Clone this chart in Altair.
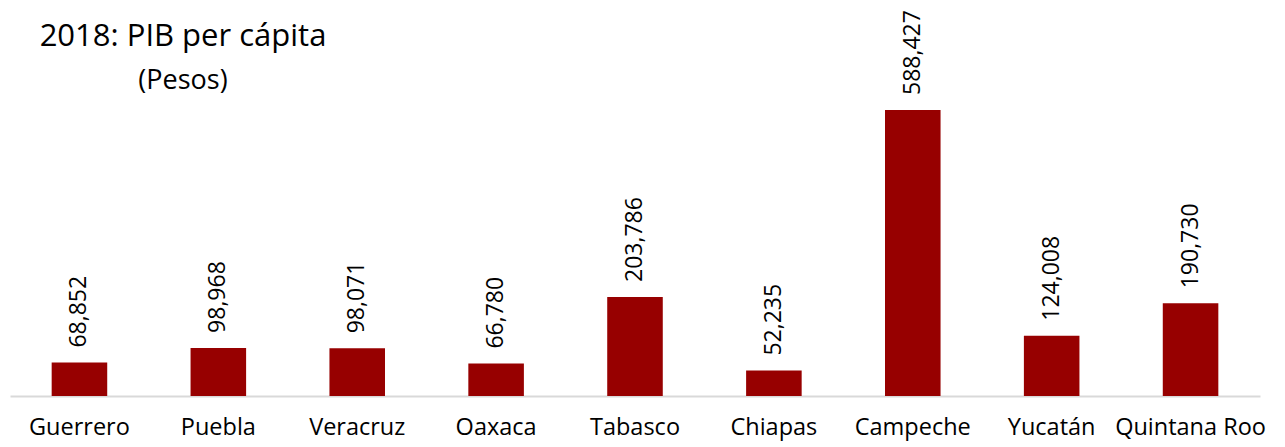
import altair as alt
import pandas as pd

estados = ["Guerrero", "Puebla", "Veracruz", "Oaxaca", "Tabasco",
           "Chiapas", "Campeche", "Yucatán", "Quintana Roo"]
pib = [68852, 98968, 98071, 66780, 203786, 52235, 588427, 124008, 190730]

df = pd.DataFrame({"estado": estados, "pib": pib})

FONT = "Open Sans"

x = alt.X("estado:N", sort=estados, title=None,
          scale=alt.Scale(paddingInner=0.6, paddingOuter=0.3),
          axis=alt.Axis(labelAngle=0, labelFontSize=23.5, labelFont=FONT,
                        labelColor="#000000", labelPadding=19, ticks=False,
                        domainColor="#d9d9d9", domainWidth=2, grid=False))
y = alt.Y("pib:Q", title=None, scale=alt.Scale(domain=[0, 798300], nice=False, zero=True),
          axis=None)

base = alt.Chart(df).encode(x=x, y=y)

bars = base.mark_bar(color="#970000")
labels = base.mark_text(angle=270, align="left", baseline="middle", dx=15,
                        fontSize=23, font=FONT, color="#000000").encode(
    text=alt.Text("pib:Q", format=",")
)

chart = (bars + labels).properties(
    width=1250, height=388,
    padding={"left": 2, "top": 0, "right": 5, "bottom": 5},
    title=alt.TitleParams(
        text="2018: PIB per cápita", subtitle="(Pesos)",
        anchor="start", align="center", dx=173, dy=87, offset=0,
        font=FONT, fontSize=31, fontWeight="normal", color="#000000",
        subtitleFont=FONT, subtitleFontSize=27, subtitleColor="#000000",
        subtitlePadding=15,
    ),
).configure_view(stroke=None)

chart.save("out.html", embed_options={"renderer": "svg", "actions": False})
